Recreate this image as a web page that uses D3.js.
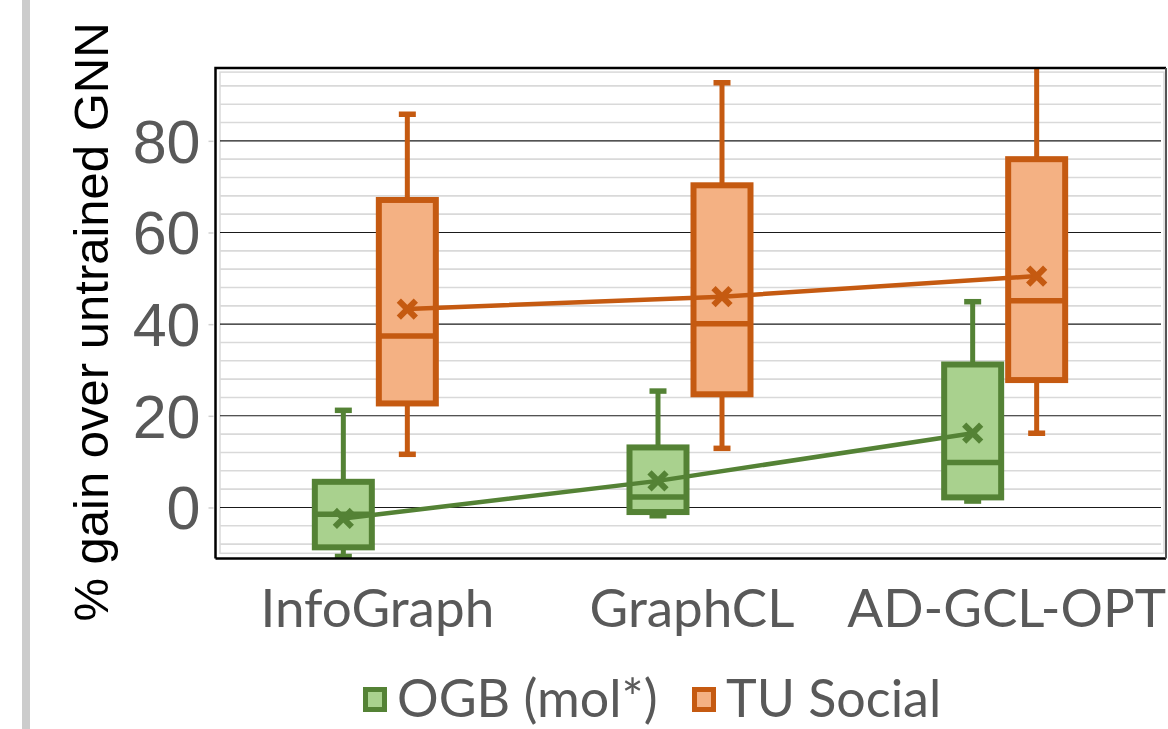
<!DOCTYPE html>
<html>
<head>
<meta charset="utf-8">
<script src="https://cdn.jsdelivr.net/npm/d3@7"></script>
<style>
  html, body { margin: 0; padding: 0; background: #fff; }
  svg { display: block; }
</style>
</head>
<body>
<svg id="chart" width="1168" height="729"></svg>
<script>
// Categories and series
const categories = ["InfoGraph", "GraphCL", "AD-GCL-OPT"];
const seriesNames = ["OGB (mol*)", "TU Social"];

// OGB (mol*) box statistics (% gain)
const ogbMin    = [-10.7, -1.8, 1.4];
const ogbQ1     = [-8.7, -1.0, 2.2];
const ogbMedian = [-1.5, 2.3, 9.8];
const ogbQ3     = [5.6, 13.1, 31.2];
const ogbMax    = [21.2, 25.4, 44.9];
const ogbMean   = [-2.4, 5.8, 16.2];

// TU Social box statistics (% gain)
const tuMin    = [11.6, 12.9, 16.2];
const tuQ1     = [22.7, 24.7, 27.8];
const tuMedian = [37.4, 40.1, 45.1];
const tuQ3     = [67.1, 70.3, 76.0];
const tuMax    = [85.8, 92.7, 98.0];
const tuMean   = [43.3, 46.0, 50.5];

// Axis ticks
const yTicks = [0, 20, 40, 60, 80];
const yMinorTicks = d3.range(-8, 93, 4).filter(v => v % 20 !== 0);

const series = [
  { name: seriesNames[0], stroke: "#548235", fill: "#a9d18e", offset: -32,
    min: ogbMin, q1: ogbQ1, median: ogbMedian, q3: ogbQ3, max: ogbMax, mean: ogbMean },
  { name: seriesNames[1], stroke: "#c55a11", fill: "#f4b183", offset: 32,
    min: tuMin, q1: tuQ1, median: tuMedian, q3: tuQ3, max: tuMax, mean: tuMean }
];

const svg = d3.select("#chart");

// Frame and plot area geometry
const frame = { left: 215.5, top: 68, right: 1166, bottom: 558.5 };
const plot = { left: 220, right: 1164 };

const x = d3.scaleBand().domain(categories).range([218, 1162]);
const y = d3.scaleLinear().domain([-10, 95]).range([553.3, 72.1]);

// Side bar on the left
svg.append("rect")
  .attr("x", 22).attr("y", 0).attr("width", 8).attr("height", 729)
  .attr("fill", "#cccccc");

// Clip region for marks
svg.append("defs").append("clipPath").attr("id", "plotClip")
  .append("rect")
  .attr("x", frame.left).attr("y", frame.top + 1)
  .attr("width", frame.right - frame.left)
  .attr("height", frame.bottom - frame.top - 1);

// Inner plot border
svg.append("rect")
  .attr("x", plot.left).attr("y", y(95))
  .attr("width", plot.right - plot.left).attr("height", y(-10) - y(95))
  .attr("fill", "none").attr("stroke", "#d9d9d9").attr("stroke-width", 1.5);

// Minor gridlines
svg.append("g").selectAll("line").data(yMinorTicks).join("line")
  .attr("x1", plot.left).attr("x2", plot.right - 3)
  .attr("y1", d => y(d)).attr("y2", d => y(d))
  .attr("stroke", "#d9d9d9").attr("stroke-width", 1.6);

// Major gridlines
svg.append("g").selectAll("line").data(yTicks).join("line")
  .attr("x1", plot.left).attr("x2", plot.right - 3)
  .attr("y1", d => y(d)).attr("y2", d => y(d))
  .attr("stroke", "#1a1a1a").attr("stroke-width", 1.1);

// Y axis with tick labels
const yAxis = d3.axisLeft(y).tickValues(yTicks).tickSize(5).tickPadding(11);
const gy = svg.append("g").attr("transform", `translate(${frame.left - 2},0)`).call(yAxis);
gy.select(".domain").remove();
gy.selectAll(".tick line").attr("stroke", "#d0d0d0").attr("stroke-width", 1.5);
gy.selectAll(".tick text")
  .attr("fill", "#595959")
  .attr("font-family", "'Liberation Sans', Arial, sans-serif")
  .attr("font-size", 61)
  .attr("dy", "0.35em")
  .attr("x", -13);

// Y axis title
svg.append("text")
  .attr("transform", "translate(108,322) rotate(-90)")
  .attr("text-anchor", "middle")
  .attr("font-family", "'Liberation Sans', Arial, sans-serif")
  .attr("font-size", 49)
  .attr("fill", "#000")
  .text("% gain over untrained GNN");

// X axis labels
const xAxis = d3.axisBottom(x).tickSize(0).tickPadding(0);
const gx = svg.append("g").attr("transform", "translate(0,627)").call(xAxis);
gx.select(".domain").remove();
gx.selectAll(".tick text")
  .attr("fill", "#595959")
  .attr("font-family", "Lato, 'Open Sans', sans-serif")
  .attr("font-size", 53)
  .attr("dy", 0)
  .attr("y", 0)
  .attr("dx", 2);

// Boxes
const boxW = 57;
const capW = 17;
const marks = svg.append("g").attr("clip-path", "url(#plotClip)");

series.forEach(s => {
  const g = marks.append("g");
  const idx = d3.range(categories.length);
  const cx = i => x(categories[i]) + x.bandwidth() / 2 + s.offset;

  // whiskers
  g.selectAll(".wu").data(idx).join("line")
    .attr("x1", cx).attr("x2", cx)
    .attr("y1", i => y(s.q3[i])).attr("y2", i => y(s.max[i]))
    .attr("stroke", s.stroke).attr("stroke-width", 5);
  g.selectAll(".wl").data(idx).join("line")
    .attr("x1", cx).attr("x2", cx)
    .attr("y1", i => y(s.q1[i])).attr("y2", i => y(s.min[i]))
    .attr("stroke", s.stroke).attr("stroke-width", 5);
  // caps
  ["max", "min"].forEach(k => {
    g.selectAll(".cap-" + k).data(idx).join("line")
      .attr("x1", i => cx(i) - capW / 2).attr("x2", i => cx(i) + capW / 2)
      .attr("y1", i => y(s[k][i])).attr("y2", i => y(s[k][i]))
      .attr("stroke", s.stroke).attr("stroke-width", 5.5);
  });
  // box
  g.selectAll(".box").data(idx).join("rect")
    .attr("x", i => cx(i) - boxW / 2).attr("width", boxW)
    .attr("y", i => y(s.q3[i])).attr("height", i => y(s.q1[i]) - y(s.q3[i]))
    .attr("fill", s.fill).attr("stroke", s.stroke).attr("stroke-width", 6);
  // median
  g.selectAll(".med").data(idx).join("line")
    .attr("x1", i => cx(i) - boxW / 2).attr("x2", i => cx(i) + boxW / 2)
    .attr("y1", i => y(s.median[i])).attr("y2", i => y(s.median[i]))
    .attr("stroke", s.stroke).attr("stroke-width", 5.5);
});

// Mean lines and markers
series.forEach(s => {
  const g = marks.append("g");
  const pts = categories.map((c, i) => [x(c) + x.bandwidth() / 2 + s.offset, y(s.mean[i])]);
  g.append("path")
    .attr("d", d3.line()(pts))
    .attr("fill", "none").attr("stroke", s.stroke).attr("stroke-width", 4.5);
  const m = 8.5;
  g.selectAll(".mk").data(pts).join("path")
    .attr("d", p => `M${p[0] - m},${p[1] - m}L${p[0] + m},${p[1] + m}M${p[0] - m},${p[1] + m}L${p[0] + m},${p[1] - m}`)
    .attr("stroke", s.stroke).attr("stroke-width", 6).attr("fill", "none");
});

// Outer frame
svg.append("path")
  .attr("d", `M${frame.left},${frame.bottom}V${frame.top}H${frame.right}`)
  .attr("fill", "none").attr("stroke", "#000").attr("stroke-width", 2.5);
svg.append("line")
  .attr("x1", frame.left).attr("x2", frame.right)
  .attr("y1", frame.bottom).attr("y2", frame.bottom)
  .attr("stroke", "#000").attr("stroke-width", 2.5);
svg.append("line")
  .attr("x1", frame.right).attr("x2", frame.right)
  .attr("y1", frame.top).attr("y2", frame.bottom)
  .attr("stroke", "#555").attr("stroke-width", 2);

// Legend
const legend = svg.append("g").attr("transform", "translate(363,687)");
const legendPos = [0, 329];
series.forEach((s, i) => {
  const lg = legend.append("g").attr("transform", `translate(${legendPos[i]},0)`);
  lg.append("rect")
    .attr("x", 2.5).attr("y", 2.5).attr("width", 19).attr("height", 20)
    .attr("fill", s.fill).attr("stroke", s.stroke).attr("stroke-width", 5);
  lg.append("text")
    .attr("x", 34).attr("y", 30)
    .attr("fill", "#595959")
    .attr("font-family", "Lato, 'Open Sans', sans-serif")
    .attr("font-size", 52)
    .text(s.name);
});
</script>
</body>
</html>
